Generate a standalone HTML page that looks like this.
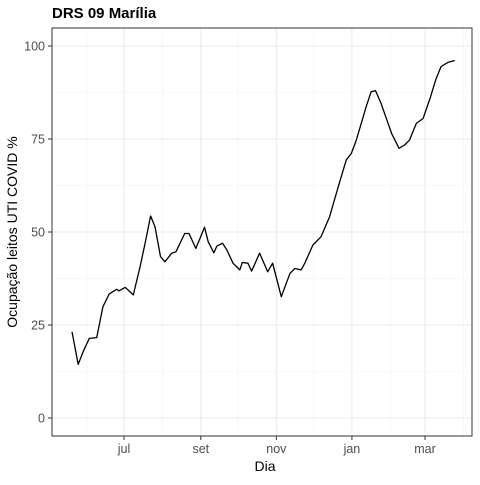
<!DOCTYPE html>
<html><head><meta charset="utf-8"><style>
body{margin:0;background:#fff;}
svg text{font-family:"Liberation Sans",sans-serif;}
</style></head><body>
<svg id="chart" width="480" height="480">
<text x="52" y="18" font-size="15" font-weight="bold" fill="#000">DRS 09 Marília</text>
<text x="265" y="471" font-size="14" text-anchor="middle" fill="#000">Dia</text>
<text transform="translate(17,232) rotate(-90)" font-size="14" text-anchor="middle" fill="#000">Ocupação leitos UTI COVID %</text>
<g id="grid"></g><g id="ticks"></g><path id="line" fill="none" stroke="#000" stroke-width="1.3" stroke-linejoin="round"></path>
<rect x="52" y="28" width="420" height="408" fill="none" stroke="#333" stroke-width="1"></rect>
</svg>
<script>
// days since 1 Jul 2020
const days=[-42,-37,-33,-28,-22,-17,-12,-6,-4,1,7.5,13,17,21.5,25,29.5,33,38.5,42,49,52.5,58,61,65,68,72.5,75,79.5,83,88,93.5,95.5,100,103,109.5,116,120,127,134,138,143,146,152.5,159,166,173,179.5,183.5,187.5,195.5,199.5,203,207.5,216,222,226.5,230.5,236,241.5,247,252,256,261.5,267];
const values=[23.2,14.4,17.8,21.4,21.6,29.9,33.3,34.6,34.2,35.1,33.1,40.7,47.0,54.3,51.4,43.4,42.0,44.3,44.7,49.6,49.6,45.6,48.0,51.3,47.4,44.4,46.2,47.0,45.2,41.6,39.8,41.8,41.6,39.5,44.3,39.3,41.6,32.6,38.9,40.2,39.8,41.6,46.5,48.7,54.1,62.2,69.4,71.1,74.7,83.7,87.7,88.0,84.6,76.5,72.5,73.4,74.7,79.2,80.5,85.9,91.2,94.5,95.6,96.1];
const yTicks=[0,25,50,75,100];
const yMinor=[12.5,37.5,62.5,87.5];
const xTickDays=[0,62,123,184,243];
const xTickLabels=["jul","set","nov","jan","mar"];
const xMinorDays=[-30,31,92,153,215,274];
const X=d=>124+d*(301/243);
const Y=v=>418-v*3.72;
const NS="http://www.w3.org/2000/svg";
const grid=document.getElementById('grid'),ticks=document.getElementById('ticks');
function ln(x1,y1,x2,y2,c,w,p){const l=document.createElementNS(NS,'line');l.setAttribute('x1',x1);l.setAttribute('y1',y1);l.setAttribute('x2',x2);l.setAttribute('y2',y2);l.setAttribute('stroke',c);l.setAttribute('stroke-width',w);p.appendChild(l);return l;}
function tx(x,y,s,a,p){const t=document.createElementNS(NS,'text');t.setAttribute('x',x);t.setAttribute('y',y);t.setAttribute('font-size','12.5');t.setAttribute('fill','#4d4d4d');t.setAttribute('text-anchor',a);t.textContent=s;p.appendChild(t);return t;}
yMinor.forEach(v=>{const l=ln(52,Y(v),472,Y(v),'#f2f2f2',0.6,grid);

});
xMinorDays.forEach(d=>{if(X(d)>52&&X(d)<472){const l=ln(X(d),28,X(d),436,'#f2f2f2',0.6,grid);

}});
yTicks.forEach(v=>{const l=ln(52,Y(v),472,Y(v),'#ebebeb',1.1,grid);


const k=ln(48,Y(v),52,Y(v),'#333',1,ticks);


const t=tx(45,Y(v)+4.5,String(v),'end',ticks);

});
xTickDays.forEach((d,i)=>{const l=ln(X(d),28,X(d),436,'#ebebeb',1.1,grid);


const k=ln(X(d),436,X(d),440,'#333',1,ticks);


const t=tx(X(d),453,xTickLabels[i],'middle',ticks);

});
document.getElementById('line').setAttribute('d',days.map((d,i)=>(i?'L':'M')+X(d).toFixed(1)+','+Y(values[i]).toFixed(1)).join(''));
</script>
</body></html>
